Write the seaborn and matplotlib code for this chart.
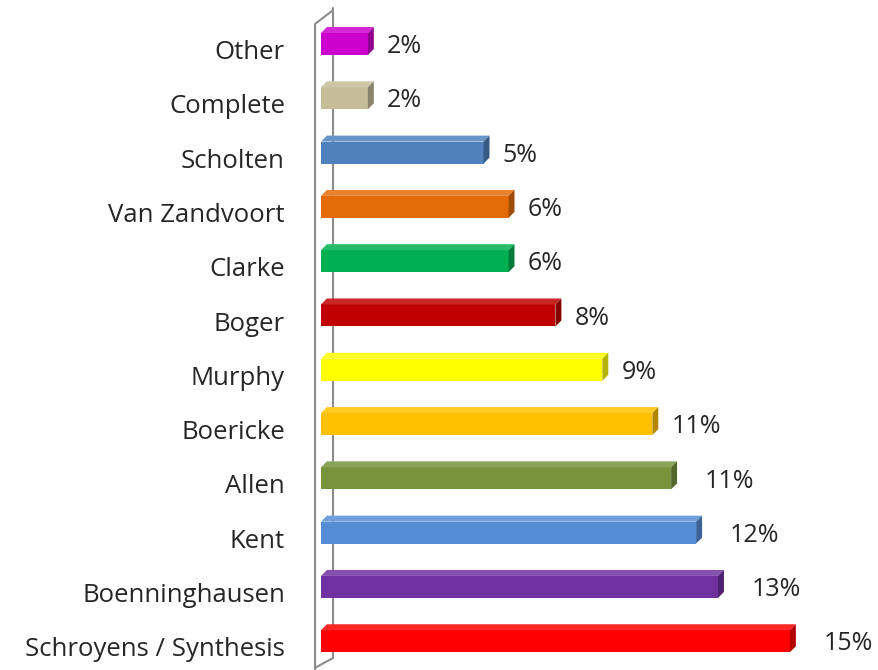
import matplotlib
matplotlib.use("Agg")
import matplotlib.pyplot as plt
import matplotlib.colors as mcolors
import matplotlib.transforms as mtransforms
from matplotlib.patches import Polygon
import numpy as np
import pandas as pd
import seaborn as sns

# Share of repertory sources (%), top to bottom as shown
sources = ["Other", "Complete", "Scholten", "Van Zandvoort", "Clarke", "Boger",
           "Murphy", "Boericke", "Allen", "Kent", "Boenninghausen",
           "Schroyens / Synthesis"]
shares = [1.5, 1.5, 5.2, 6.0, 6.0, 7.5, 9.0, 10.6, 11.2, 12.0, 12.7, 15.0]
bar_colors = ["#CC00CC", "#C4BD97", "#4F81BD", "#E36C09", "#00B050", "#C00000",
              "#FFFF00", "#FFC000", "#77933C", "#558ED5", "#7030A0", "#FF0000"]

sns.set_style("white")
plt.rcParams["font.family"] = ["Open Sans", "DejaVu Sans"]

df = pd.DataFrame({"source": sources, "share": shares})

fig = plt.figure(figsize=(8.79, 6.70), dpi=100)
ax = fig.add_axes([321 / 879, 0, 558 / 879, 1])

sns.barplot(data=df, x="share", y="source", hue="source", palette=bar_colors,
            orient="h", width=0.405, saturation=1, legend=False, ax=ax,
            linewidth=0, zorder=3)

ax.set_xlim(0, 17.85)
ax.set_ylim(11.53, -0.81)

# fake 3D depth
dx, dy = 0.19, 0.11
gap_px = [13] * 8 + [28] * 4
bars = sorted(ax.patches, key=lambda p: p.get_y())
for i, (bar, val) in enumerate(zip(bars, shares)):
    x0, w = bar.get_x(), bar.get_width()
    ytop, ybot = bar.get_y(), bar.get_y() + bar.get_height()
    rgb = np.array(mcolors.to_rgb(bar.get_facecolor()))
    top_c = rgb + (1 - rgb) * 0.15
    side_c = rgb * 0.7
    ax.add_patch(Polygon([(x0, ytop), (x0 + dx, ytop - dy), (x0 + w + dx, ytop - dy),
                          (x0 + w, ytop)], closed=True, facecolor=top_c,
                         edgecolor="none", zorder=3))
    ax.add_patch(Polygon([(x0 + w, ytop), (x0 + w + dx, ytop - dy),
                          (x0 + w + dx, ybot - dy), (x0 + w, ybot)], closed=True,
                         facecolor=side_c, edgecolor="none", zorder=3))
    ax.text(x0 + w + dx + gap_px[i] / 31.27, (ytop + ybot) / 2 + 0.05,
            f"{val:.0f}%", va="center", ha="left", fontsize=18, color="#262626")

# 3D wall outline
wall = "#8c8c8c"
xf, xb = -0.19, 0.38
ax.plot([xb, xb], [-0.66, 11.31], color=wall, lw=1.5, zorder=1, clip_on=False)
ax.plot([xf, xf, xb], [11.53, -0.37, -0.62], color=wall, lw=1.5, zorder=4,
        clip_on=False)
ax.plot([xf, xb], [11.49, 11.31], color=wall, lw=1.5, zorder=1, clip_on=False)

ax.set_xlabel("")
ax.set_ylabel("")
ax.set_xticks([])
ax.tick_params(axis="y", length=0, pad=26, labelsize=18.5, labelcolor="#262626")
shift = mtransforms.ScaledTranslation(0, -4 / 72, fig.dpi_scale_trans)
for lbl in ax.get_yticklabels():
    lbl.set_transform(lbl.get_transform() + shift)
for s in ax.spines.values():
    s.set_visible(False)

fig.savefig("out.png", dpi=100)
